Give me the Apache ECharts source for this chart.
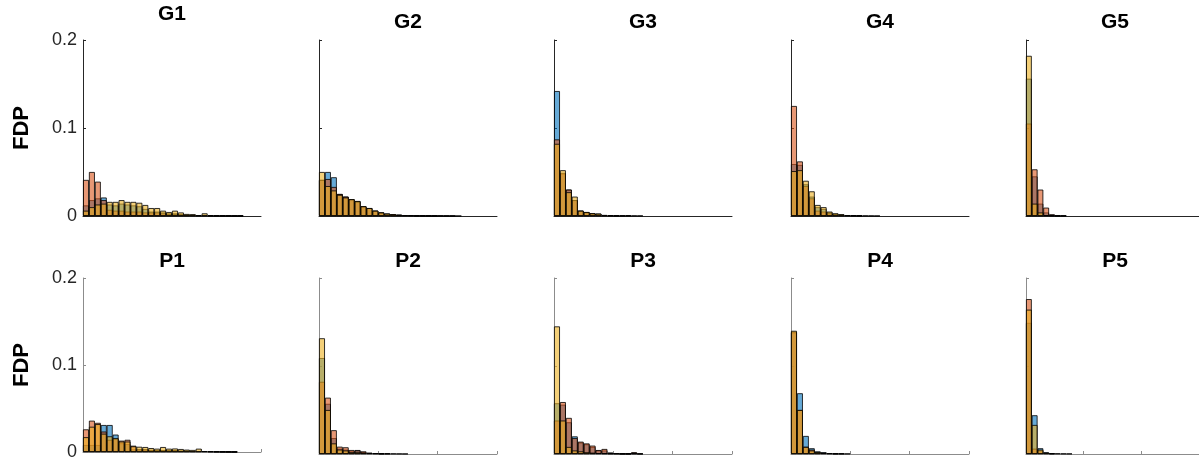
<!DOCTYPE html>
<html>
<head>
<meta charset="utf-8">
<script src="https://cdn.jsdelivr.net/npm/echarts@6/dist/echarts.min.js"></script>
<style>
  html, body { margin: 0; padding: 0; background: #fff; }
  #chart { width: 1199px; height: 461px; }
</style>
</head>
<body>
<div id="chart"></div>
<script>
// histogram bins (30 per panel)
const binCount = 30;
const bins = Array.from({ length: binCount }, (_, i) => String(i + 1));
const panelNames = ['G1', 'G2', 'G3', 'G4', 'G5', 'P1', 'P2', 'P3', 'P4', 'P5'];
const yTicks = [0, 0.1, 0.2];

// FDP per bin, three groups per panel (blue, red, yellow)
const g1Blue   = [0.012, 0.018, 0.020, 0.021, 0.013, 0.012, 0.014, 0.013, 0.012, 0.011, 0.008, 0.005, 0.005, 0.004, 0.003, 0.003, 0.002, 0.0015, 0.0015, 0.001, 0.001, 0.0008, 0.0006, 0.0005, 0.0004, 0.0003, 0.0002];
const g1Red    = [0.041, 0.050, 0.039, 0.018, 0.007, 0.006, 0.006, 0.005, 0.005, 0.005, 0.004, 0.004, 0.004, 0.003, 0.002, 0.002, 0.0015, 0.001, 0.001, 0.0008, 0.0008, 0.0006, 0.0005, 0.0004, 0.0003, 0.0002, 0.0001];
const g1Yellow = [0.006, 0.010, 0.013, 0.014, 0.016, 0.016, 0.018, 0.016, 0.016, 0.015, 0.0125, 0.009, 0.009, 0.006, 0.0045, 0.006, 0.004, 0.0023, 0.002, 0.001, 0.003, 0.0006, 0.0005, 0.0004, 0.0003, 0.0002, 0.0002];

const g2Blue   = [0.041, 0.050, 0.044, 0.025, 0.022, 0.019, 0.017, 0.011, 0.009, 0.006, 0.004, 0.0027, 0.002, 0.0015, 0.001, 0.001, 0.0006, 0.0005, 0.0004, 0.0003, 0.0003, 0.0002, 0.0002, 0.0001];
const g2Red    = [0.041, 0.042, 0.033, 0.025, 0.022, 0.019, 0.016, 0.011, 0.009, 0.006, 0.004, 0.0025, 0.002, 0.0015, 0.001, 0.0008, 0.0006, 0.0005, 0.0004, 0.0003, 0.0002, 0.0002, 0.0001];
const g2Yellow = [0.050, 0.034, 0.029, 0.024, 0.021, 0.019, 0.017, 0.011, 0.009, 0.006, 0.004, 0.0027, 0.002, 0.0012, 0.001, 0.0008, 0.0005, 0.0004, 0.0003, 0.0002];

const g3Blue   = [0.142, 0.048, 0.030, 0.018, 0.006, 0.0045, 0.003, 0.0027, 0.001, 0.0008, 0.0006, 0.0005, 0.0008, 0.0004, 0.0003];
const g3Red    = [0.087, 0.049, 0.030, 0.018, 0.006, 0.004, 0.003, 0.002, 0.001, 0.0008, 0.0005, 0.0004, 0.0003];
const g3Yellow = [0.082, 0.052, 0.027, 0.022, 0.006, 0.0045, 0.003, 0.0027, 0.0012, 0.0008, 0.0005];

const g4Blue   = [0.059, 0.058, 0.036, 0.022, 0.010, 0.008, 0.004, 0.0025, 0.0015, 0.001, 0.0007, 0.0005, 0.0004, 0.0003, 0.0002];
const g4Red    = [0.125, 0.062, 0.034, 0.020, 0.006, 0.005, 0.003, 0.002, 0.0015, 0.001, 0.0006, 0.0004];
const g4Yellow = [0.051, 0.052, 0.040, 0.028, 0.0125, 0.010, 0.005, 0.003, 0.002, 0.001, 0.0008, 0.0005];

const g5Blue   = [0.156, 0.045, 0.014, 0.004, 0.001, 0.0005, 0.0003];
const g5Red    = [0.105, 0.053, 0.030, 0.0095, 0.002, 0.001, 0.0005];
const g5Yellow = [0.182, 0.014, 0.004, 0.001, 0.0005, 0.0002];

const p1Blue   = [0.008, 0.008, 0.008, 0.031, 0.031, 0.020, 0.010, 0.009, 0.003, 0.003, 0.003, 0.002, 0.002, 0.002, 0.002, 0.002, 0.0015, 0.0015, 0.001, 0.001, 0.001, 0.0008, 0.0006, 0.0004, 0.0003, 0.0002];
const p1Red    = [0.026, 0.036, 0.0335, 0.0235, 0.014, 0.015, 0.013, 0.014, 0.0072, 0.003, 0.003, 0.0025, 0.002, 0.002, 0.002, 0.002, 0.0015, 0.0015, 0.001, 0.001, 0.001, 0.0008, 0.0006, 0.0004, 0.0003, 0.0002];
const p1Yellow = [0.017, 0.029, 0.032, 0.021, 0.018, 0.016, 0.012, 0.012, 0.0065, 0.006, 0.0057, 0.0045, 0.0038, 0.0057, 0.0038, 0.004, 0.0034, 0.0027, 0.0023, 0.0038, 0.001, 0.0008, 0.0006, 0.0004, 0.0003, 0.0002];

const p2Blue   = [0.109, 0.057, 0.018, 0.006, 0.005, 0.003, 0.0045, 0.002, 0.0012, 0.001, 0.0006, 0.0005, 0.0004, 0.0003, 0.0002];
const p2Red    = [0.082, 0.064, 0.027, 0.0083, 0.0076, 0.0045, 0.004, 0.003, 0.0015, 0.001, 0.0007, 0.0005];
const p2Yellow = [0.1315, 0.050, 0.012, 0.005, 0.004, 0.002, 0.002, 0.0015, 0.001, 0.0008, 0.0005];

const p3Blue   = [0.0576, 0.056, 0.036, 0.020, 0.013, 0.011, 0.008, 0.004, 0.004, 0.0015, 0.001, 0.0005, 0.0005, 0.0015, 0.0003];
const p3Red    = [0.038, 0.059, 0.041, 0.018, 0.014, 0.012, 0.0095, 0.0045, 0.0057, 0.0015, 0.001, 0.0005, 0.0005, 0.002, 0.0003];
const p3Yellow = [0.145, 0.038, 0.008, 0.004, 0.003, 0.002, 0.0015, 0.001, 0.0008, 0.0005, 0.0004, 0.0003, 0.0002, 0.0005];

const p4Blue   = [0.138, 0.069, 0.0205, 0.0065, 0.003, 0.002, 0.001, 0.0007, 0.0005, 0.0003];
const p4Red    = [0.139, 0.050, 0.0083, 0.005, 0.002, 0.0015, 0.001, 0.0006, 0.0004];
const p4Yellow = [0.140, 0.050, 0.008, 0.004, 0.002, 0.001, 0.0008, 0.0005];

const p5Blue   = [0.149, 0.044, 0.0065, 0.002, 0.001, 0.0006, 0.0004, 0.0003];
const p5Red    = [0.176, 0.006, 0.004, 0.001, 0.0005];
const p5Yellow = [0.164, 0.033, 0.005, 0.0015, 0.0008];

const panelData = [
  [g1Blue, g1Red, g1Yellow], [g2Blue, g2Red, g2Yellow], [g3Blue, g3Red, g3Yellow],
  [g4Blue, g4Red, g4Yellow], [g5Blue, g5Red, g5Yellow],
  [p1Blue, p1Red, p1Yellow], [p2Blue, p2Red, p2Yellow], [p3Blue, p3Red, p3Yellow],
  [p4Blue, p4Red, p4Yellow], [p5Blue, p5Red, p5Yellow]
];

const colors = ['rgba(0,114,189,0.6)', 'rgba(217,83,25,0.6)', 'rgba(237,177,32,0.6)'];
const lefts = [83, 319, 554, 791, 1026];
const tops = [40, 278];
const panelW = 178, panelH = 176;
const font = '"Liberation Sans", Arial, sans-serif';

const chart = echarts.init(document.getElementById('chart'));

const grid = [], xAxis = [], yAxis = [], series = [], title = [];
panelNames.forEach((name, i) => {
  const row = Math.floor(i / 5), col = i % 5;
  const lineColor = row === 0 ? '#262626' : '#8c8c8c';
  grid.push({ left: lefts[col], top: tops[row], width: panelW, height: panelH });
  xAxis.push({
    type: 'category', gridIndex: i, data: bins, boundaryGap: true,
    axisLine: { lineStyle: { color: lineColor, width: 1 } },
    axisTick: { show: row === 1, inside: true, length: 3, interval: idx => idx % 10 === 0, lineStyle: { color: lineColor } },
    axisLabel: { show: false }, splitLine: { show: false }
  });
  yAxis.push({
    type: 'value', gridIndex: i, min: yTicks[0], max: yTicks[yTicks.length - 1], interval: 0.1,
    name: col === 0 ? 'FDP' : '', nameLocation: 'middle', nameGap: 50, nameRotate: 90,
    nameTextStyle: { fontFamily: font, fontWeight: 'bold', fontSize: 22, color: '#000' },
    axisLine: { show: true, lineStyle: { color: lineColor, width: 1 } },
    axisTick: { show: true, inside: true, length: 3, lineStyle: { color: lineColor } },
    axisLabel: { show: col === 0, fontFamily: font, fontSize: 18, color: '#262626', margin: 6 },
    splitLine: { show: false }
  });
  title.push({
    text: name, left: lefts[col] + panelW / 2, top: i === 0 ? 4 : (row === 0 ? 12 : 251),
    textAlign: 'center', padding: 0,
    textStyle: { fontFamily: font, fontWeight: 'bold', fontSize: 21, color: '#000' }
  });
  panelData[i].forEach((vals, k) => {
    series.push({
      type: 'bar', xAxisIndex: i, yAxisIndex: i, data: vals,
      barGap: '-100%', barCategoryGap: '0%',
      itemStyle: { color: colors[k], borderColor: '#000', borderWidth: 0.8 },
      silent: true, animation: false
    });
  });
});

chart.setOption({ animation: false, title, grid, xAxis, yAxis, series });
</script>
</body>
</html>
